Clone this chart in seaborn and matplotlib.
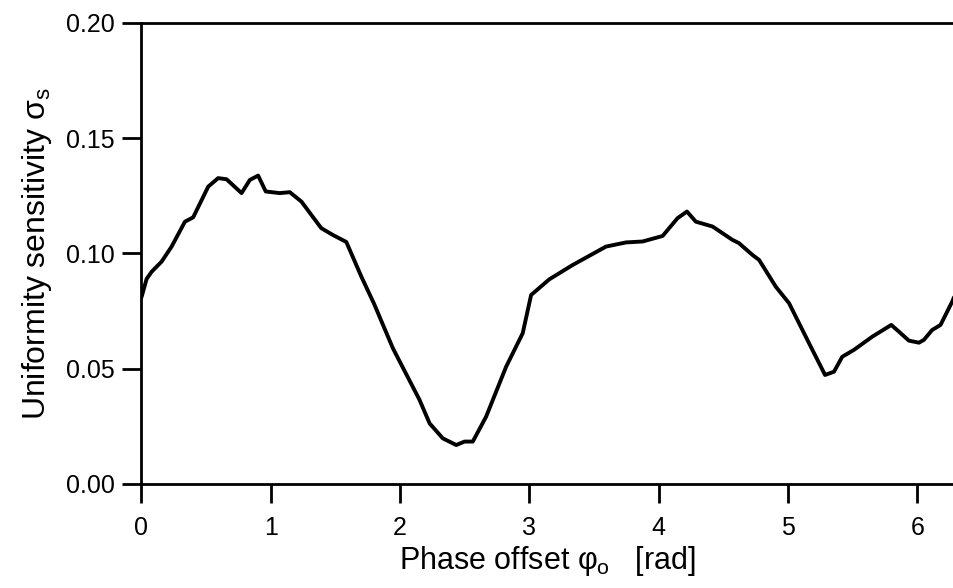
import numpy as np
import pandas as pd
import matplotlib
matplotlib.use("Agg")
import matplotlib.pyplot as plt
import seaborn as sns

phase = [0.0, 0.04, 0.079, 0.156, 0.233, 0.336, 0.40, 0.516, 0.593, 0.658,
         0.774, 0.838, 0.902, 0.961, 1.069, 1.147, 1.237, 1.39, 1.481, 1.584,
         1.70, 1.80, 1.944, 2.15, 2.228, 2.33, 2.434, 2.498, 2.562, 2.665,
         2.82, 2.948, 3.013, 3.154, 3.334, 3.592, 3.747, 3.875, 4.03, 4.145,
         4.218, 4.287, 4.416, 4.57, 4.62, 4.724, 4.776, 4.905, 5.008, 5.162,
         5.286, 5.355, 5.419, 5.51, 5.651, 5.798, 5.857, 5.934, 6.012, 6.05,
         6.114, 6.179, 6.269, 6.283]
sensitivity = [0.081, 0.089, 0.0921, 0.0965, 0.103, 0.1138, 0.1157, 0.129, 0.1327, 0.1322,
               0.1262, 0.1319, 0.1338, 0.1269, 0.1262, 0.1266, 0.1225, 0.111, 0.108, 0.105,
               0.090, 0.078, 0.0589, 0.0365, 0.0263, 0.0198, 0.0169, 0.0184, 0.0184, 0.0292,
               0.0509, 0.0654, 0.082, 0.0888, 0.095, 0.103, 0.1048, 0.1052, 0.1076, 0.1153,
               0.1182, 0.1138, 0.1117, 0.1059, 0.1045, 0.0994, 0.0972, 0.0856, 0.0784, 0.0611,
               0.0473, 0.0487, 0.0552, 0.0582, 0.0639, 0.069, 0.0661, 0.0622, 0.0613, 0.0625,
               0.0668, 0.069, 0.0791, 0.081]

x_ticks = [0, 1, 2, 3, 4, 5, 6]
y_ticks = [0.00, 0.05, 0.10, 0.15, 0.20]
y_ticklabels = ["0.00", "0.05", "0.10", "0.15", "0.20"]

sns.set_theme(style="ticks")
plt.rcParams["font.family"] = ["Liberation Sans", "DejaVu Sans"]
plt.rcParams["mathtext.fontset"] = "custom"
plt.rcParams["mathtext.rm"] = "Liberation Sans"
plt.rcParams["mathtext.it"] = "Liberation Sans"
plt.rcParams["mathtext.bf"] = "Liberation Sans:bold"
plt.rcParams["text.color"] = "black"
plt.rcParams["axes.labelcolor"] = "black"
plt.rcParams["xtick.color"] = "black"
plt.rcParams["ytick.color"] = "black"

fig = plt.figure(figsize=(9.54, 5.88), dpi=100)
ax = fig.add_axes([0.1483, 0.1769, 0.8517, 0.784])

df = pd.DataFrame({"phase": phase, "sens": sensitivity})
sns.lineplot(data=df, x="phase", y="sens", ax=ax, color="black", linewidth=2.8,
             sort=False, estimator=None)

ax.set_xlim(0, 2 * np.pi)
ax.set_ylim(0, 0.20)
ax.set_xticks(x_ticks)
ax.set_xticklabels([str(t) for t in x_ticks])
ax.set_yticks(y_ticks)
ax.set_yticklabels(y_ticklabels)

for s in ["left", "bottom", "top"]:
    ax.spines[s].set_visible(True)
    ax.spines[s].set_linewidth(2.0)
    ax.spines[s].set_color("black")
ax.spines["right"].set_visible(False)

ax.tick_params(axis="x", direction="out", length=14, width=2.0, pad=9,
               labelsize=18, labelcolor="black")
ax.tick_params(axis="y", direction="out", length=14, width=2.0, pad=5,
               labelsize=18, labelcolor="black")

ax.set_xlabel(r"Phase offset $\varphi_{\mathrm{o}}$   [rad]", fontsize=22, labelpad=3)
ax.set_ylabel(r"Uniformity sensitivity $\sigma_{\mathrm{s}}$", fontsize=23, labelpad=9)

fig.savefig("out.png", dpi=100)
